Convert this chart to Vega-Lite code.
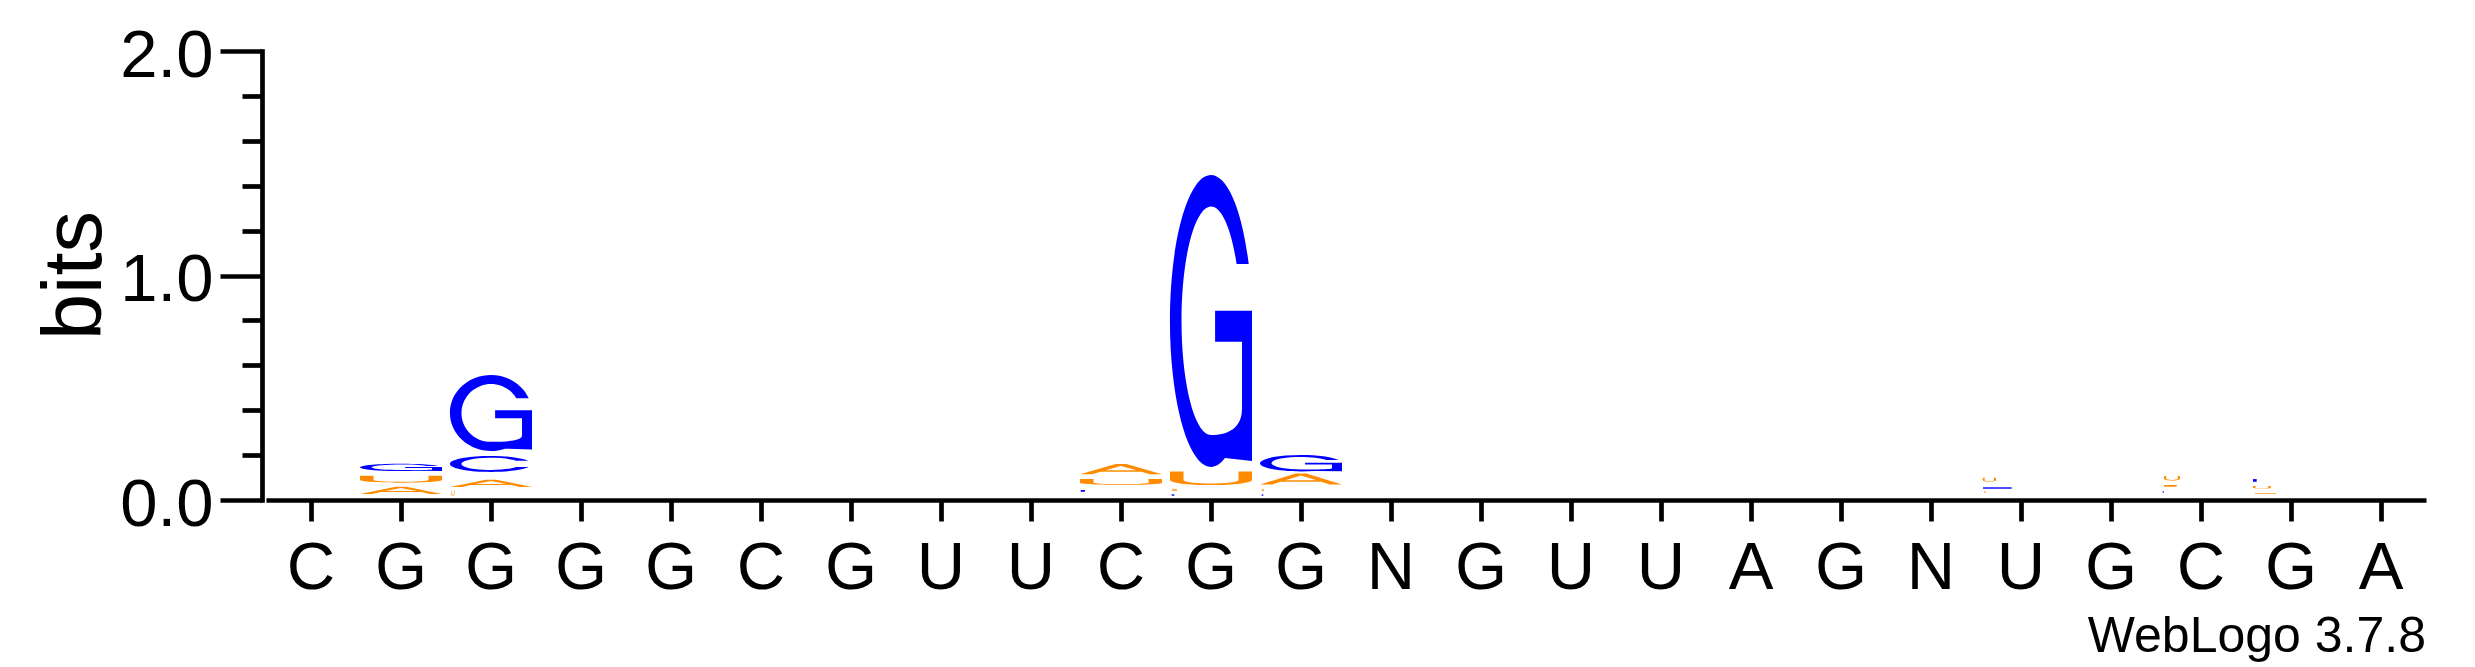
{
  "$schema": "https://vega.github.io/schema/vega-lite/v6.json",
  "description": "Sequence logo of a 24-position RNA motif (WebLogo 3.7.8 style), letter stacks in bits",
  "width": 2160,
  "height": 449,
  "autosize": {"type": "none"},
  "padding": {"left": 266, "top": 51, "right": 49, "bottom": 167},
  "background": "white",
  "title": {
    "text": "WebLogo 3.7.8",
    "orient": "bottom",
    "anchor": "end",
    "frame": "group",
    "font": "Liberation Sans",
    "fontSize": 50,
    "fontWeight": "normal",
    "color": "black",
    "offset": 11
  },
  "config": {"view": {"stroke": null}},
  "data": {
    "values": [
      {"pos": 2, "base": "C", "bits": 0.017, "glyph": "2C"},
      {"pos": 2, "base": "A", "bits": 0.050, "glyph": "2A"},
      {"pos": 2, "base": "U", "bits": 0.052, "glyph": "2U"},
      {"pos": 2, "base": "G", "bits": 0.053, "glyph": "2G"},
      {"pos": 3, "base": "U", "bits": 0.045, "glyph": "3U"},
      {"pos": 3, "base": "A", "bits": 0.058, "glyph": "3A"},
      {"pos": 3, "base": "C", "bits": 0.099, "glyph": "3C"},
      {"pos": 3, "base": "G", "bits": 0.359, "glyph": "3G"},
      {"pos": 10, "base": "G", "bits": 0.027, "glyph": "10G"},
      {"pos": 10, "base": "C", "bits": 0.029, "glyph": "10C"},
      {"pos": 10, "base": "U", "bits": 0.048, "glyph": "10U"},
      {"pos": 10, "base": "A", "bits": 0.066, "glyph": "10A"},
      {"pos": 11, "base": "C", "bits": 0.020, "glyph": "11C"},
      {"pos": 11, "base": "A", "bits": 0.024, "glyph": "11A"},
      {"pos": 11, "base": "U", "bits": 0.083, "glyph": "11U"},
      {"pos": 11, "base": "G", "bits": 1.325, "glyph": "11G"},
      {"pos": 12, "base": "C", "bits": 0.015, "glyph": "12C"},
      {"pos": 12, "base": "U", "bits": 0.031, "glyph": "12U"},
      {"pos": 12, "base": "A", "bits": 0.067, "glyph": "12A"},
      {"pos": 12, "base": "G", "bits": 0.092, "glyph": "12G"},
      {"pos": 20, "base": "C", "bits": 0.019, "glyph": "20C"},
      {"pos": 20, "base": "A", "bits": 0.021, "glyph": "20A"},
      {"pos": 20, "base": "G", "bits": 0.025, "glyph": "20G"},
      {"pos": 20, "base": "U", "bits": 0.039, "glyph": "20U"},
      {"pos": 22, "base": "G", "bits": 0.012, "glyph": "22G"},
      {"pos": 22, "base": "C", "bits": 0.026, "glyph": "22C"},
      {"pos": 22, "base": "A", "bits": 0.028, "glyph": "22A"},
      {"pos": 22, "base": "U", "bits": 0.042, "glyph": "22U"},
      {"pos": 23, "base": "C", "bits": 0.019, "glyph": "23C"},
      {"pos": 23, "base": "A", "bits": 0.022, "glyph": "23A"},
      {"pos": 23, "base": "U", "bits": 0.030, "glyph": "23U"},
      {"pos": 23, "base": "G", "bits": 0.032, "glyph": "23G"}
    ]
  },
  "mark": {"type": "point", "filled": true, "opacity": 1, "size": 4, "strokeWidth": 0},
  "encoding": {
    "x": {
      "field": "pos",
      "type": "ordinal",
      "scale": {
        "type": "band",
        "domain": [1, 2, 3, 4, 5, 6, 7, 8, 9, 10, 11, 12, 13, 14, 15, 16, 17, 18, 19, 20, 21, 22, 23, 24],
        "paddingInner": 0,
        "paddingOuter": 0
      },
      "axis": {
        "title": null,
        "labelExpr": "['C','G','G','G','G','C','G','U','U','C','G','G','N','G','U','U','A','G','N','U','G','C','G','A'][datum.value - 1]",
        "labelAngle": 0,
        "labelFont": "Liberation Sans",
        "labelFontSize": 67,
        "labelColor": "black",
        "labelPadding": 14,
        "labelOverlap": false,
        "tickSize": 21,
        "tickWidth": 4.7,
        "tickColor": "black",
        "domainWidth": 4.7,
        "domainColor": "black",
        "domainCap": "butt",
        "grid": false
      }
    },
    "y": {
      "field": "bits",
      "type": "quantitative",
      "stack": "zero",
      "scale": {"domain": [0, 2], "nice": false},
      "axis": {
        "title": "bits",
        "values": [0, 0.2, 0.4, 0.6, 0.8, 1, 1.2, 1.4, 1.6, 1.8, 2],
        "labelExpr": "datum.value % 1 === 0 ? format(datum.value, '.1f') : ''",
        "labelFont": "Liberation Sans",
        "labelFontSize": 67,
        "labelColor": "black",
        "labelPadding": 7,
        "labelOffset": 5,
        "labelOverlap": false,
        "tickSize": {"condition": {"test": "datum.value % 1 === 0", "value": 42}, "value": 20},
        "tickWidth": 4.7,
        "tickColor": "black",
        "domainWidth": 4.7,
        "domainColor": "black",
        "domainCap": "square",
        "offset": 4,
        "grid": false,
        "titleFont": "Liberation Sans",
        "titleFontSize": 83,
        "titleFontWeight": "normal",
        "titleColor": "black",
        "titleAngle": 270,
        "titleAlign": "center",
        "titleBaseline": "alphabetic",
        "titleX": -162,
        "titleY": 224
      }
    },
    "color": {
      "field": "base",
      "type": "nominal",
      "scale": {"domain": ["A", "C", "G", "U"], "range": ["#FF8C00", "#0000FF", "#0000FF", "#FF8C00"]},
      "legend": null
    },
    "shape": {
      "field": "glyph",
      "type": "nominal",
      "legend": null,
      "scale": {
        "domain": ["2C", "2A", "2U", "2G", "3U", "3A", "3C", "3G", "10G", "10C", "10U", "10A", "11C", "11A", "11U", "11G", "12C", "12U", "12A", "12G", "20C", "20A", "20G", "20U", "22G", "22C", "22A", "22U", "23C", "23A", "23U", "23G"],
        "range": [
          "M0 0L0 0Z",
          "M-41 9L-5.3 1.7L5.3 1.7L41 9L28.7 9L20.5 7.1L-20.5 7.1L-28.7 9ZM0 3L-15.6 6.1L15.6 6.1Z",
          "M-41 2.4L-41 6.7A41 2.66 0 0 0 41 6.7L41 2.4L27.5 2.4L27.5 6.7A27.5 1.82 0 0 1 -27.5 6.7L-27.5 2.4Z",
          "M37.7 4.5A41 3.65 0 1 0 14 9.4L41 9.5L41 5.7L4.1 5.7L4.1 6.5L31 6.5L31 8.1C31 8.6 17.2 8.7 0 8.7A29.5 2.77 0 1 1 25.3 4.5Z",
          "M-40 0.8L-40 3.9A1.75 1.9 0 0 0 -36.5 3.9L-36.5 0.8L-37 0.8L-37 3.9A1.26 1.3 0 0 1 -39.5 3.9L-39.5 0.8Z",
          "M-41 10.1L-5.3 2.8L5.3 2.8L41 10.1L28.7 10.1L20.5 8.2L-20.5 8.2L-28.7 10.1ZM0 4.1L-15.6 7.2L15.6 7.2Z",
          "M37.7 6.2A41 8 0 1 0 37.7 12.4L25.3 12.4A29.5 6.08 0 1 1 25.3 6.2Z",
          "M37.7 24.1A41 38 0 1 0 14 74.6L41 75.4L41 36.2L4.1 36.2L4.1 44.3L31 44.3L31 61.7C31 66.3 17.2 67.8 0 67.8A29.5 28.9 0 1 1 25.3 24.1Z",
          "M0 0L0 0Z",
          "M-40.3 2.6L-36 2.6L-36 4.3L-40.3 4.3Z",
          "M-41 2.4L-41 6.1A41 2.28 0 0 0 41 6.1L41 2.4L27.5 2.4L27.5 6.1A27.5 1.56 0 0 1 -27.5 6.1L-27.5 2.4Z",
          "M-41 12.5L-5.3 2.2L5.3 2.2L41 12.5L28.7 12.5L20.5 9.8L-20.5 9.8L-28.7 12.5ZM0 4.1L-15.6 8.4L15.6 8.4Z",
          "M-39.3 -1.2L-36.7 -1.2L-36.7 0.2L-39.3 0.2Z",
          "M-39 -0.8L-34 -0.8L-34 0.6L-39 0.6Z",
          "M-41 0L-41 8.4A41 5.13 0 0 0 41 8.4L41 0L27.5 0L27.5 8.4A27.5 3.51 0 0 1 -27.5 8.4L-27.5 0Z",
          "M37.7 90A41 145.9 0 1 0 14 284L41 286.9L41 136.6L4.1 136.6L4.1 167.6L31 167.6L31 234.4C31 254 17.2 261 0 261A29.5 114.2 0 1 1 25.6 90Z",
          "M-39.3 -2.3L-37.7 -2.3L-37.7 -0.9L-39.3 -0.9Z",
          "M-39.3 -0.3L-37 -0.3L-37 1.1L-39.3 1.1Z",
          "M-41 9.9L-5.3 -1.1L5.3 -1.1L41 9.9L28.7 9.9L20.5 7L-20.5 7L-28.7 9.9ZM0 0.9L-15.6 5.5L15.6 5.5Z",
          "M37.7 6A41 8.25 0 1 0 14 17L41 17.2L41 8.7L4.1 8.7L4.1 10.4L31 10.4L31 14.2C31 15.2 17.2 15.5 0 15.5A29.5 6.27 0 1 1 25.3 6Z",
          "M0 0L0 0Z",
          "M-37 0.5L-35 0.5L-35 1.5L-37 1.5Z",
          "M-38 1.9L-9.3 1.9L-9.3 3.3L-38 3.3Z",
          "M-38.3 1L-38.3 3.5A6.65 1.52 0 0 0 -25 3.5L-25 1L-27 1L-27 3.5A4.65 1.04 0 0 1 -36.3 3.5L-36.3 1Z",
          "M0 0L0 0Z",
          "M-38.3 -0.5L-37.3 -0.5L-37.3 1.2L-38.3 1.2Z",
          "M-37 -0.2L-24.3 -0.2L-24.3 1.5L-37 1.5Z",
          "M-37 0.2L-37 3.1A8 1.79 0 0 0 -21 3.1L-21 0.2L-23.2 0.2L-23.2 3.1A5.8 1.22 0 0 1 -34.8 3.1L-34.8 0.2Z",
          "M0 0L0 0Z",
          "M-36 2.2L-15 2.2L-15 2.9L-36 2.9Z",
          "M-38 2L-38 3.7A8.85 1.03 0 0 0 -20.3 3.7L-20.3 2L-22.8 2L-22.8 3.7A6.35 0.7 0 0 1 -35.5 3.7L-35.5 2Z",
          "M-38 2.2L-34.3 2.2L-34.3 4.9L-38 4.9Z"
        ]
      }
    },
    "order": {"field": "bits", "sort": "ascending"}
  }
}
